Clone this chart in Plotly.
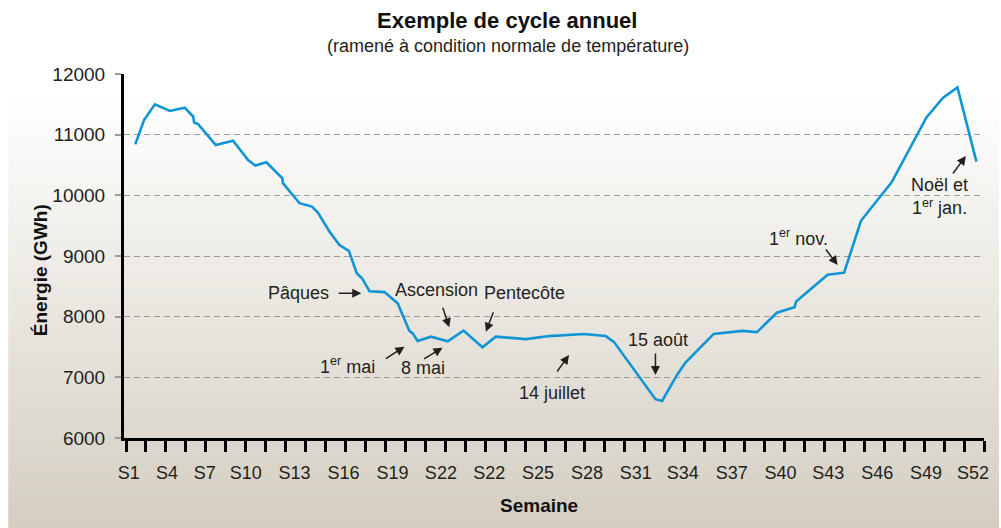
import plotly.graph_objects as go

# ---- data (week number, energy GWh) ----
weeks = [1.00, 1.53, 2.19, 3.10, 3.99, 4.51, 4.57, 4.81, 5.88, 6.93, 7.84, 8.28, 8.95,
         9.92, 9.95, 10.96, 11.71, 12.07, 12.78, 13.38, 13.95, 14.43, 14.76, 15.20,
         16.11, 16.91, 17.62, 17.82, 18.12, 18.93, 19.94, 20.90, 22.05, 22.86, 24.68,
         26.09, 28.20, 29.52, 30.02, 32.54, 32.94, 33.85, 34.36, 36.07, 37.78, 38.69,
         39.90, 40.97, 41.07, 42.98, 43.98, 45.00, 46.86, 48.97, 49.98, 50.85, 52.00]
energy = [10840, 11240, 11500, 11390, 11445, 11300, 11200, 11175, 10830, 10900, 10580,
          10490, 10545, 10280, 10200, 9870, 9815, 9715, 9400, 9180, 9085, 8715, 8630,
          8420, 8405, 8220, 7765, 7725, 7600, 7670, 7595, 7770, 7495, 7670, 7630, 7680,
          7715, 7680, 7585, 6640, 6610, 7040, 7245, 7715, 7765, 7745, 8065, 8155, 8250,
          8690, 8725, 9580, 10215, 11285, 11610, 11780, 10555]

tick_pos = [0.60, 2.92, 5.22, 7.70, 10.66, 13.63, 16.59, 19.53, 22.46, 25.42, 28.39,
            31.35, 34.19, 37.16, 40.12, 43.02, 45.99, 48.95, 51.80]
tick_text = ["S1", "S4", "S7", "S10", "S13", "S16", "S19", "S22", "S22", "S25", "S28",
             "S31", "S34", "S37", "S40", "S43", "S46", "S49", "S52"]
y_ticks = [6000, 7000, 8000, 9000, 10000, 11000, 12000]

# event labels: (text, text_x, text_y, xanchor)
labels = [
    ("Pâques", 12.88, 8385, "right"),
    ("Ascension", 19.25, 8440, "center"),
    ("Pentecôte", 24.58, 8395, "center"),
    ("1<sup>er</sup> mai", 13.87, 7203, "center"),
    ("8 mai", 18.47, 7154, "center"),
    ("14 juillet", 26.27, 6742, "center"),
    ("15 août", 32.68, 7615, "center"),
    ("1<sup>er</sup> nov.", 41.21, 9297, "center"),
    ("Noël et<br>1<sup>er</sup> jan.", 49.74, 9989, "center"),
]
# arrows: (head_x, head_y, tail offset px dx, dy)
arrows = [
    (14.70, 8385, -24, 0),
    (20.04, 7825, -7, -21),
    (22.26, 7752, 8, -21),
    (17.32, 7505, -20, 13),
    (19.63, 7489, -20, 12),
    (27.30, 7368, -13, 18),
    (32.54, 7038, 0, -23),
    (43.59, 8852, -13, -17),
    (51.36, 10648, -14, 19),
]

FONT = "Liberation Sans, Arial, Helvetica, sans-serif"
TXT = "#231f20"

fig = go.Figure()
fig.add_trace(go.Scatter(x=weeks, y=energy, mode="lines",
                         line=dict(color="#0f95d5", width=2.6), hoverinfo="x+y",
                         showlegend=False))

# background gradient strips (white at top -> beige at bottom)
W_L, W_R, T, B = 124, 986, 74, 438
def py(p):
    return (B - p) / (B - T)
def px(p):
    return (p - W_L) / (W_R - W_L)
shapes = []
top_c = (255, 255, 255)
bot_c = (212, 206, 193)
g0, g1 = 95, 528
n = 80
shapes.append(dict(type="rect", xref="paper", yref="paper", x0=px(8), x1=px(1001),
                   y0=py(g0), y1=py(0), fillcolor="white", line_width=0, layer="below"))
for i in range(n):
    a = g0 + (g1 - g0) * i / n
    b = g0 + (g1 - g0) * (i + 1) / n
    t = (i + 0.5) / n
    c = tuple(round(top_c[k] + (bot_c[k] - top_c[k]) * t) for k in range(3))
    shapes.append(dict(type="rect", xref="paper", yref="paper", x0=px(8), x1=px(1001),
                       y0=py(b), y1=py(a) + 0.002, fillcolor="rgb(%d,%d,%d)" % c,
                       line_width=0, layer="below"))

annotations = []
for text, x, y, xa in labels:
    annotations.append(dict(x=x, y=y, xref="x", yref="y", text=text, showarrow=False,
                            xanchor=xa, yanchor="middle",
                            font=dict(family=FONT, size=18, color=TXT)))
for hx, hy, dx, dy in arrows:
    annotations.append(dict(x=hx, y=hy, xref="x", yref="y", text="", showarrow=True,
                            ax=dx, ay=dy, arrowhead=2, arrowsize=1.2, arrowwidth=1.5,
                            arrowcolor=TXT))
annotations += [
    dict(text="<b>Exemple de cycle annuel</b>", x=px(508), y=py(20), xref="paper",
         yref="paper", showarrow=False, xanchor="center", yanchor="middle",
         font=dict(family=FONT, size=22, color="#111")),
    dict(text="(ramené à condition normale de température)", x=px(509), y=py(46),
         xref="paper", yref="paper", showarrow=False, xanchor="center", yanchor="middle",
         font=dict(family=FONT, size=18, color=TXT)),
    dict(text="<b>Semaine</b>", x=px(540), y=py(505), xref="paper", yref="paper",
         showarrow=False, xanchor="center", yanchor="middle",
         font=dict(family=FONT, size=19, color="#111")),
    dict(text="<b>Énergie (GWh)</b>", x=px(40), y=py(270), xref="paper", yref="paper",
         showarrow=False, textangle=-90, xanchor="center", yanchor="middle",
         font=dict(family=FONT, size=19, color="#111")),
]

fig.update_layout(
    width=1001, height=528,
    margin=dict(l=W_L, r=1001 - W_R, t=T, b=528 - B),
    paper_bgcolor="white", plot_bgcolor="rgba(0,0,0,0)",
    shapes=shapes, annotations=annotations,
    font=dict(family=FONT, color=TXT),
)
fig.update_xaxes(
    range=[0.316, 52.46], showgrid=False, zeroline=False,
    showline=True, linecolor="black", linewidth=3,
    tickvals=tick_pos, ticktext=tick_text, ticks="outside", ticklen=16,
    tickcolor="rgba(0,0,0,0)", tickfont=dict(family=FONT, size=18, color=TXT),
    minor=dict(tick0=0.437, dtick=1.2099, ticks="outside", ticklen=11, tickwidth=2.5,
               tickcolor="black", showgrid=False),
)
fig.update_yaxes(
    range=[6000, 12000], tickvals=y_ticks, tickformat="d", zeroline=False,
    showline=True, linecolor="black", linewidth=3,
    showgrid=True, gridcolor="#9b9b9b", gridwidth=1.4, griddash="6px,4px",
    ticks="outside", ticklen=6, tickwidth=1.5, tickcolor="#9b9b9b",
    ticklabelstandoff=6, tickfont=dict(family=FONT, size=19, color=TXT),
)

fig.write_html("out.html", config={"displayModeBar": False},
               post_script="document.body.style.margin='0px';")
